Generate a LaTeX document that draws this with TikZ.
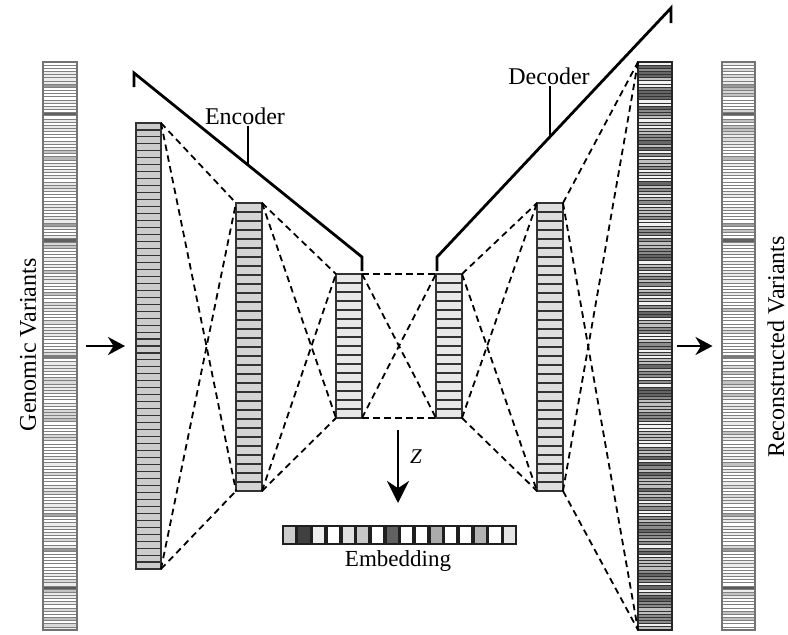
\documentclass[tikz,border=0pt]{standalone}
\usepackage{fontspec}
\setmainfont{Liberation Serif}
\usetikzlibrary{arrows.meta}

\begin{document}
\begin{tikzpicture}[x=1pt,y=-1pt,
  layer/.style={draw=black!80, line width=1.6pt, inner sep=0pt, outer sep=0pt},
  cellline/.style={draw=black!80, line width=1.1pt},
  barbox/.style={inner sep=0pt, outer sep=0pt, minimum width=34pt, minimum height=568pt},
  dashline/.style={line width=1.8pt, dash pattern=on 6.5pt off 4.5pt},
  bracket/.style={line width=2.8pt, line join=miter},
  bigarrow/.style={line width=2.6pt, -{Stealth[length=17pt,width=18pt]}},
  lbl/.style={font=\fontsize{24}{28}\selectfont, inner sep=1pt}
]
\useasboundingbox (0,0) rectangle (788,635);

% ---------- input and reconstructed variant bars (thin stripes) ----------
\node[barbox] (L0) at (60,346) {};
\node[barbox] (L7) at (738.5,346) {};
\node[barbox] (L6) at (655,346) {};

\pgfmathsetseed{11}
\foreach \xa/\xb in {43/77, 722/755}{
  \foreach \i in {0,...,179}{
    \pgfmathrandominteger{\r}{0}{99}
    \pgfmathtruncatemacro\p{\r<55 ? 0 : (\r<85 ? 8 : (\r<95 ? 15 : 24))}
    \fill[black!\p] (\xa,{62+\i*3.1556}) rectangle (\xb,{62+(\i+1)*3.1556});
  }
  \foreach \yy/\p in {85/40, 114/62, 157/28, 222/38, 240/62, 355/52, 512/35, 548/40, 585/65, 617/25}{
    \pgfmathtruncatemacro\row{round((\yy-62)/3.1556)}
    \fill[black!\p] (\xa,{62+\row*3.1556}) rectangle (\xb,{62+(\row+1)*3.1556});
  }
  \foreach \i in {1,...,179}
    \draw[black!50, line width=0.6pt] (\xa,{62+\i*3.1556}) -- (\xb,{62+\i*3.1556});
  \draw[black!55, line width=1.2pt] (\xa,62) rectangle (\xb,630);
}

% ---------- decoder output bar (dark stripes) ----------
\pgfmathsetseed{5}
\foreach \i in {0,...,179}{
  \pgfmathrandominteger{\r}{0}{99}
  \pgfmathtruncatemacro\p{\r<22 ? 5 : (\r<50 ? 25 : (\r<82 ? 45 : 60))}
  \fill[black!\p] (638,{62+\i*3.1556}) rectangle (672,{62+(\i+1)*3.1556});
}
\foreach \i in {1,...,179}
  \draw[black!80, line width=0.9pt] (638,{62+\i*3.1556}) -- (672,{62+\i*3.1556});
\draw[black!85, line width=1.6pt] (638,62) rectangle (672,630);

% ---------- hidden layers ----------
\node[layer, fill=black!20, minimum width=25pt, minimum height=446pt] (L1) at (148.5,346) {};
\node[layer, fill=black!17, minimum width=26pt, minimum height=288pt] (L2) at (249,347) {};
\node[layer, fill=black!9,  minimum width=26pt, minimum height=144pt] (L3) at (349,346) {};
\node[layer, fill=black!9,  minimum width=26pt, minimum height=144pt] (L4) at (449,346) {};
\node[layer, fill=black!13, minimum width=26pt, minimum height=288pt] (L5) at (550,347) {};

\foreach \k in {1,...,63}
  \draw[cellline] ([yshift=-\k*6.96875pt]L1.north west) -- ([yshift=-\k*6.96875pt]L1.north east);
\foreach \n in {L2,L5}
  \foreach \k in {1,...,31}
    \draw[cellline] ([yshift=-\k*9pt]\n.north west) -- ([yshift=-\k*9pt]\n.north east);
\foreach \n in {L3,L4}
  \foreach \k in {1,...,15}
    \draw[cellline] ([yshift=-\k*9pt]\n.north west) -- ([yshift=-\k*9pt]\n.north east);
\foreach \n in {L1,L2,L3,L4,L5}
  \draw[layer] (\n.north west) rectangle (\n.south east);

% ---------- dashed full connections between consecutive layers ----------
\foreach \a/\b in {L1/L2, L2/L3, L3/L4, L4/L5, L5/L6}{
  \draw[dashline] (\a.north east) -- (\b.north west);
  \draw[dashline] (\a.north east) -- (\b.south west);
  \draw[dashline] (\a.south east) -- (\b.north west);
  \draw[dashline] (\a.south east) -- (\b.south west);
}

% ---------- encoder / decoder brackets ----------
\draw[bracket] (134,87) -- (134,73) -- (362,257) -- (362,271);
\coordinate (encpt) at (248,165);
\node[lbl] (enc) at (245,116) {Encoder};
\draw[bracket] (enc.south -| encpt) -- (encpt);

\draw[bracket] (437,271) -- (437,257) -- (671,8) -- (671,23);
\coordinate (decpt) at (550,137);
\node[lbl] (dec) at (549,76) {Decoder};
\draw[bracket] (dec.south -| decpt) -- (decpt);

% ---------- side labels and arrows ----------
\node[lbl, rotate=90] (gv) at (28,345) {Genomic Variants};
\node[lbl, rotate=90] (rv) at (776,347) {Reconstructed Variants};
\draw[bigarrow] ([xshift=9pt]L0.east) -- ([xshift=-11pt]L1.west);
\draw[bigarrow] ([xshift=5pt]L6.east) -- ([xshift=-9pt]L7.west);

% ---------- embedding vector ----------
\node[inner sep=0pt, outer sep=0pt, minimum width=235pt, minimum height=20pt] (emb) at (399.5,535) {};
\fill[black!88] (emb.north west) rectangle (emb.south east);
\foreach \c [count=\k from 0] in {20,75,7,0,12,22,0,62,0,0,33,0,0,30,0,10}
  \fill[black!\c] ([xshift={\k*14.6875pt+1.8pt}, yshift=-2.2pt]emb.north west)
    rectangle ([xshift={(\k+1)*14.6875pt-1.8pt}, yshift=2.2pt]emb.south west);
\node[lbl, font=\fontsize{23}{27}\selectfont] (embl) at (398,561) {Embedding};

\coordinate (zstart) at (398,430);
\draw[line width=2.8pt, -{Stealth[length=22pt,width=22pt]}] (zstart) -- ([yshift=22pt]emb.north -| zstart);
\node[lbl, font=\fontsize{21}{25}\selectfont\itshape] (zl) at (416,457) {Z};
\end{tikzpicture}
\end{document}
